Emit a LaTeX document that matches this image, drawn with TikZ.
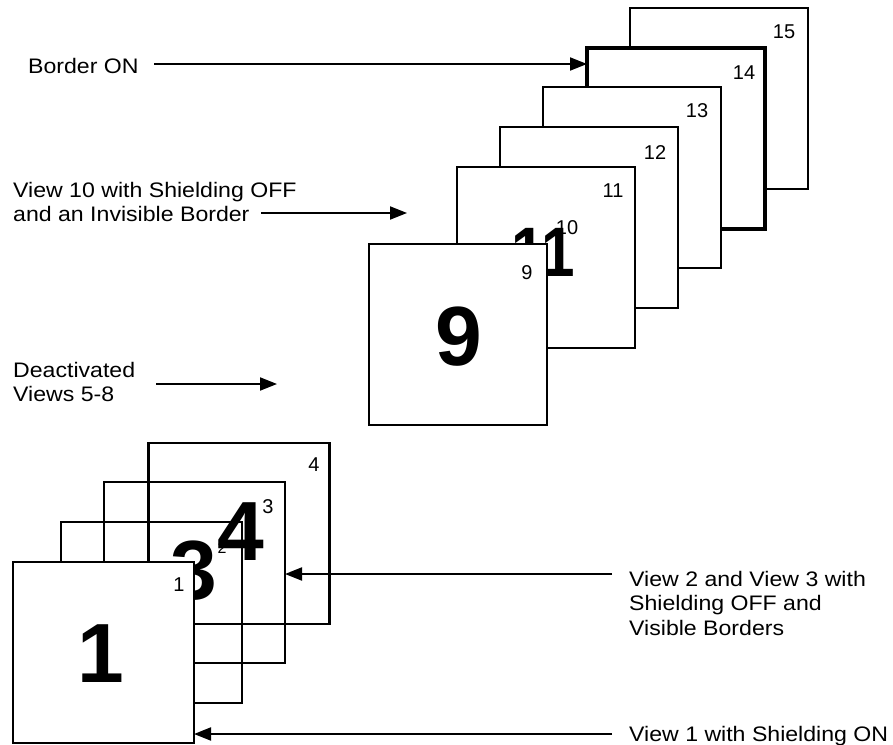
\documentclass[tikz,border=0pt]{standalone}
\usepackage{fontspec}
\setmainfont{Liberation Sans}
\newfontfamily\lblfont[FakeStretch=1.1]{Liberation Sans}
\newfontfamily\narrowbold[FakeStretch=0.86]{Liberation Sans Bold}
\usetikzlibrary{arrows.meta}
\begin{document}
\begin{tikzpicture}[x=1pt,y=-1pt,
  viewbox/.style={draw=black, line width=2.4pt, fill=white, inner sep=0pt, outer sep=0pt,
    minimum width=178pt, minimum height=181pt},
  openbox/.style={viewbox, fill=none, minimum width=181pt},
  thickbox/.style={viewbox, line width=4pt},
  lbl/.style={font=\lblfont\fontsize{21}{24.5}\selectfont, inner sep=0pt, anchor=base west},
  num/.style={font=\fontsize{20}{24}\selectfont, inner sep=0pt},
  bignum/.style={font=\bfseries\fontsize{84}{90}\selectfont, inner sep=0pt},
  arr/.style={line width=2pt, -{Triangle[length=17pt,width=13pt]}}
]
\path[fill=white] (0,0) rectangle (893,744);
\useasboundingbox (0,0) rectangle (893,744);

% ---- upper stack (views 9-15) ----
\node[viewbox] (v15) at (719,98.5) {};
\node[num] (n15) at (784,32) {15};
\node[thickbox] (v14) at (676,138.5) {};
\node[num] (n14) at (744,73) {14};
\node[viewbox] (v13) at (632,177.5) {};
\node[num] (n13) at (697,111) {13};
\node[viewbox] (v12) at (589,217.5) {};
\node[num] (n12) at (655,153) {12};
\node[viewbox] (v11) at (546,257.5) {};
\node[num] (n11) at (613,191) {11};
\node[num] (n10) at (567,228) {10};
\node[bignum, font=\narrowbold\fontsize{70}{76}\selectfont] (b11) at (543,252) {11};
\node[viewbox] (v9) at (458,334.5) {};
\node[num] (n9) at (527,273) {9};
\node[bignum] (b9) at (459,337) {9};

% ---- lower stack (views 1-4) ----
\node[openbox] (v4) at (239,533.5) {};
\node[num] (n4) at (314,465) {4};
\node[openbox] (v3) at (194.5,572.5) {};
\node[num] (n3) at (268,507) {3};
\node[openbox] (v2) at (151.5,612.5) {};
\node[num, font=\fontsize{16}{20}\selectfont] (n2) at (222,548) {2};
\node[bignum] (b3) at (194,571) {3};
\node[bignum] (b4) at (241,532) {4};
\node[viewbox, minimum width=181pt] (v1) at (103.5,652.5) {};
\node[num] (n1) at (179,585) {1};
\node[bignum] (b1) at (101,654) {1};

% ---- labels ----
\node[lbl] (tBorder) at (28,73) {Border ON};
\node[lbl] (tView10) at (13,197) {\begin{tabular}[t]{@{}l@{}}View 10 with Shielding OFF\\and an Invisible Border\end{tabular}};
\node[lbl] (tDeact) at (13,377) {\begin{tabular}[t]{@{}l@{}}Deactivated\\Views 5-8\end{tabular}};
\node[lbl] (tView23) at (629,586) {\begin{tabular}[t]{@{}l@{}}View 2 and View 3 with\\Shielding OFF and\\Visible Borders\end{tabular}};
\node[lbl] (tView1) at (629,741) {View 1 with Shielding ON};

% ---- arrows ----
\coordinate (bonS) at (154,64);
\draw[arr] (bonS) -- (bonS -| v14.west);
\coordinate (v10S) at (261,213);
\coordinate (v10E) at (407,213);
\draw[arr] (v10S) -- (v10E);
\coordinate (deS) at (156,384);
\coordinate (deE) at (277,384);
\draw[arr] (deS) -- (deE);
\coordinate (v23S) at (612,574);
\draw[arr] (v23S) -- (v23S -| v3.east);
\coordinate (v1S) at (612,734);
\draw[arr] (v1S) -- (v1S -| v1.east);
\end{tikzpicture}
\end{document}
